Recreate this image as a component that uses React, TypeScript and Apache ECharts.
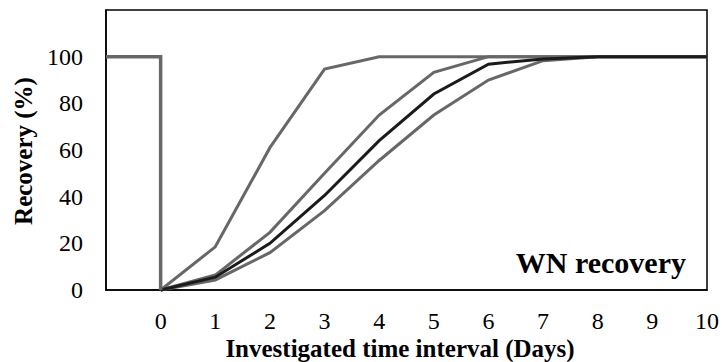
import React, { useEffect, useRef } from "react";
import * as echarts from "echarts";

const days = [0, 1, 2, 3, 4, 5, 6, 7, 8, 9, 10];
const fastCurve = [0, 18.5, 61, 94.7, 100, 100, 100, 100, 100, 100, 100];
const upperCurve = [0, 6.4, 24.7, 50, 75, 93.3, 100, 100, 100, 100, 100];
const meanCurve = [0, 5.5, 20, 40.5, 64, 84, 96.8, 99, 100, 100, 100];
const lowerCurve = [0, 4.3, 16, 34, 55.5, 75, 90, 98.3, 100, 100, 100];
const stepX = [-1, 0, 0];
const stepY = [100, 100, 0];

const xTitle = "Investigated time interval (Days)";
const yTitle = "Recovery (%)";
const panelLabel = "WN recovery";

const FONT = "Times New Roman, Liberation Serif, serif";
const GRAY = "#676767";
const BLACK = "#1b1b1b";

const pairs = (xs: number[], ys: number[]) => xs.map((x, i) => [x, ys[i]]);

export default function App() {
  const ref = useRef<HTMLDivElement>(null);
  useEffect(() => {
    if (!ref.current) return;
    const chart = echarts.init(ref.current, null, { renderer: "svg" });
    const lineSeries = (name: string, ys: number[], color: string, width: number) => ({
      type: "line",
      name,
      data: pairs(days, ys),
      showSymbol: false,
      symbol: "none",
      clip: false,
      lineStyle: { color, width, cap: "butt", join: "miter" },
    });
    const textStyle = (size: number, bold: boolean) => ({
      fontFamily: FONT,
      fontSize: size,
      fontWeight: bold ? "bold" : "normal",
      fill: "#000",
    });
    chart.setOption({
      animation: false,
      backgroundColor: "#ffffff",
      textStyle: { fontFamily: FONT },
      grid: {
        left: 106,
        right: 15,
        top: 10,
        bottom: 72,
        containLabel: false,
        show: true,
        borderColor: "#000",
        borderWidth: 1.5,
      },
      xAxis: {
        type: "value",
        min: -1,
        max: 10,
        interval: 1,
        axisLine: { show: true, onZero: false, lineStyle: { color: "#000", width: 1.5 } },
        axisTick: { show: false },
        splitLine: { show: false },
        axisLabel: {
          margin: 19,
          fontFamily: FONT,
          fontSize: 24,
          color: "#000",
          formatter: (v: number) => (v < 0 ? "" : String(v)),
        },
      },
      yAxis: {
        type: "value",
        min: 0,
        max: 120,
        interval: 20,
        axisLine: { show: true, onZero: false, lineStyle: { color: "#000", width: 1.5 } },
        axisTick: { show: false },
        splitLine: { show: false },
        axisLabel: {
          margin: 23,
          fontFamily: FONT,
          fontSize: 24,
          color: "#000",
          formatter: (v: number) => (v > 100 ? "" : String(v)),
        },
      },
      series: [
        lineSeries("fast", fastCurve, GRAY, 3),
        lineSeries("upper", upperCurve, GRAY, 3),
        lineSeries("lower", lowerCurve, GRAY, 3),
        lineSeries("mean", meanCurve, BLACK, 3),
        {
          type: "line",
          name: "step",
          data: pairs(stepX, stepY),
          showSymbol: false,
          symbol: "none",
          clip: false,
          lineStyle: { color: GRAY, width: 3.5, cap: "butt", join: "miter" },
        },
      ],
      graphic: [
        {
          type: "text",
          x: 400,
          y: 348,
          style: {
            text: xTitle,
            ...textStyle(25, true),
            textAlign: "center",
            textVerticalAlign: "middle",
          },
        },
        {
          type: "text",
          x: 23,
          y: 151,
          rotation: Math.PI / 2,
          style: {
            text: yTitle,
            ...textStyle(25, true),
            textAlign: "center",
            textVerticalAlign: "middle",
          },
        },
        {
          type: "text",
          x: 686,
          y: 262,
          style: {
            text: panelLabel,
            ...textStyle(30, true),
            textAlign: "right",
            textVerticalAlign: "middle",
          },
        },
      ],
    });
    return () => chart.dispose();
  }, []);
  return (
    <div
      ref={ref}
      style={{ position: "fixed", left: 0, top: 0, width: 722, height: 362 }}
    />
  );
}
